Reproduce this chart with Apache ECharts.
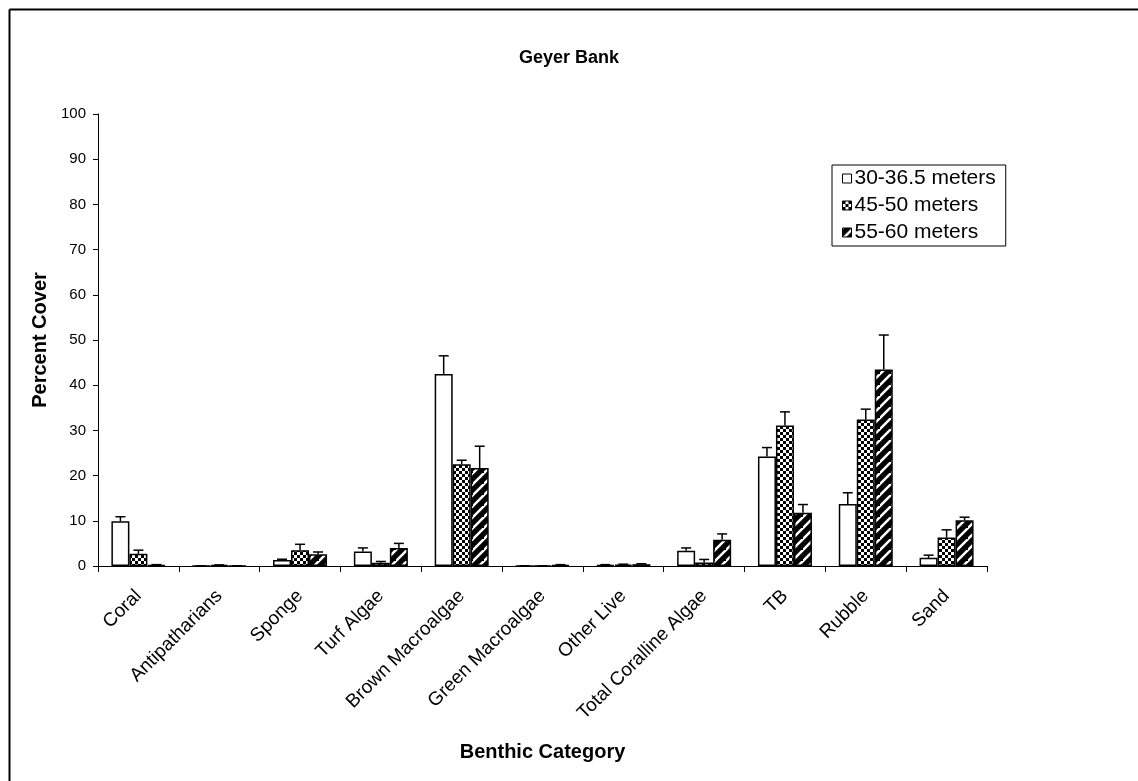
<!DOCTYPE html>
<html>
<head>
<meta charset="utf-8">
<title>Geyer Bank</title>
<script src="https://cdn.jsdelivr.net/npm/echarts@6/dist/echarts.min.js"></script>
<style>
  html, body { margin: 0; padding: 0; background: #fff; }
  #chart { width: 1138px; height: 781px; }
</style>
</head>
<body>
<div id="chart"></div>
<script>
  // benthic categories along the x axis
  var categories = ['Coral', 'Antipatharians', 'Sponge', 'Turf Algae', 'Brown Macroalgae',
    'Green Macroalgae', 'Other Live', 'Total Coralline Algae', 'TB', 'Rubble', 'Sand'];
  var seriesNames = ['30-36.5 meters', '45-50 meters', '55-60 meters'];

  // mean percent cover
  var shallow = [9.9, 0.05, 1.3, 3.2, 42.5, 0.05, 0.2, 3.4, 24.2, 13.7, 1.8];
  var mid = [2.7, 0.2, 3.5, 0.7, 22.5, 0.05, 0.3, 0.75, 31.1, 32.4, 6.3];
  var deep = [0.2, 0.05, 2.6, 4.0, 21.7, 0.2, 0.4, 5.8, 11.8, 43.5, 10.1];

  // standard errors (upper whisker only)
  var shallowSE = [1.0, 0, 0.2, 0.8, 4.0, 0, 0.1, 0.6, 2.0, 2.5, 0.6];
  var midSE = [0.8, 0.05, 1.3, 0.3, 0.9, 0, 0.1, 0.7, 3.0, 2.3, 1.7];
  var deepSE = [0.1, 0, 0.5, 1.0, 4.8, 0.1, 0.1, 1.3, 1.8, 7.6, 0.7];

  var yTicks = { min: 0, max: 100, interval: 10 };

  var FONT = '"Liberation Sans", Arial, sans-serif';
  var BAR_W = 18;

  // fill patterns like the old excel ones
  function checkerPattern() {
    var c = document.createElement('canvas');
    c.width = 6; c.height = 6;
    var ctx = c.getContext('2d');
    ctx.fillStyle = '#fff';
    ctx.fillRect(0, 0, 6, 6);
    ctx.fillStyle = '#000';
    ctx.fillRect(0, 0, 3, 3);
    ctx.fillRect(3, 3, 3, 3);
    return c;
  }
  function stripePattern() {
    var s = 11;
    var c = document.createElement('canvas');
    c.width = s; c.height = s;
    var ctx = c.getContext('2d');
    ctx.fillStyle = '#000';
    ctx.fillRect(0, 0, s, s);
    ctx.strokeStyle = '#fff';
    ctx.lineWidth = 2.5;
    ctx.beginPath();
    ctx.moveTo(-2, s + 2); ctx.lineTo(s + 2, -2);
    ctx.moveTo(-2 - s, s + 2); ctx.lineTo(2, -2);
    ctx.moveTo(s - 2, 2 * s + 2); ctx.lineTo(2 * s + 2, s - 2);
    ctx.stroke();
    return c;
  }

  var fills = [
    '#ffffff',
    { image: checkerPattern(), repeat: 'repeat' },
    { image: stripePattern(), repeat: 'repeat' }
  ];
  var means = [shallow, mid, deep];
  var errs = [shallowSE, midSE, deepSE];

  var series = [];
  for (var s = 0; s < 3; s++) {
    series.push({
      name: seriesNames[s],
      type: 'bar',
      barWidth: BAR_W,
      barGap: '0%',
      data: means[s],
      itemStyle: { color: fills[s], borderColor: '#000', borderWidth: 1.5 },
      emphasis: { disabled: true }
    });
  }

  // error bars: [categoryIndex, top, mean, seriesIndex]
  var errData = [];
  for (var s2 = 0; s2 < 3; s2++) {
    for (var i = 0; i < categories.length; i++) {
      errData.push([i, means[s2][i] + errs[s2][i], means[s2][i], s2]);
    }
  }
  series.push({
    type: 'custom',
    z: 5,
    silent: true,
    data: errData,
    renderItem: function (params, api) {
      var offset = (api.value(3) - 1) * BAR_W;
      var base = api.coord([api.value(0), api.value(2)]);
      var top = api.coord([api.value(0), api.value(1)]);
      var x = base[0] + offset;
      var style = { stroke: '#000', lineWidth: 1.5 };
      return {
        type: 'group',
        children: [
          { type: 'line', shape: { x1: x, y1: base[1], x2: x, y2: top[1] }, style: style },
          { type: 'line', shape: { x1: x - 5, y1: top[1], x2: x + 5, y2: top[1] }, style: style }
        ]
      };
    }
  });

  var chart = echarts.init(document.getElementById('chart'));
  chart.setOption({
    animation: false,
    backgroundColor: '#fff',
    textStyle: { fontFamily: FONT, color: '#000' },
    title: {
      text: 'Geyer Bank',
      left: 'center',
      top: 44,
      textStyle: { fontFamily: FONT, fontSize: 18, fontWeight: 'bold', color: '#000' }
    },
    graphic: [
      { type: 'line', shape: { x1: 9.5, y1: 9.5, x2: 1138, y2: 9.5 }, style: { stroke: '#000', lineWidth: 2 } },
      { type: 'line', shape: { x1: 9.5, y1: 9.5, x2: 9.5, y2: 781 }, style: { stroke: '#000', lineWidth: 2 } }
    ],
    legend: {
      orient: 'vertical',
      left: 832,
      top: 165,
      padding: [3, 10, 3, 10],
      itemGap: 6,
      itemWidth: 9,
      itemHeight: 9,
      itemStyle: { borderColor: '#000', borderWidth: 1 },
      icon: 'rect',
      borderColor: '#000',
      borderWidth: 1,
      backgroundColor: '#fff',
      textStyle: { fontFamily: FONT, fontSize: 21, color: '#000', padding: [0, 0, 0, -2] },
      data: seriesNames
    },
    grid: { left: 98, right: 151, top: 114, bottom: 215 },
    xAxis: {
      type: 'category',
      data: categories,
      name: 'Benthic Category',
      nameLocation: 'middle',
      nameGap: 176,
      nameTextStyle: { fontFamily: FONT, fontSize: 20, fontWeight: 'bold', color: '#000' },
      axisLine: { lineStyle: { color: '#000', width: 1 } },
      axisTick: { show: true, alignWithLabel: false, length: 6, lineStyle: { color: '#000' } },
      axisLabel: { rotate: 45, fontSize: 19, color: '#000', fontFamily: FONT, margin: 27, interval: 0 }
    },
    yAxis: {
      type: 'value',
      min: yTicks.min,
      max: yTicks.max,
      interval: yTicks.interval,
      name: 'Percent Cover',
      nameLocation: 'middle',
      nameGap: 47,
      nameTextStyle: { fontFamily: FONT, fontSize: 20, fontWeight: 'bold', color: '#000' },
      axisLine: { show: true, lineStyle: { color: '#000', width: 1 } },
      axisTick: { show: true, length: 5, lineStyle: { color: '#000' } },
      axisLabel: { fontSize: 15, color: '#000', fontFamily: FONT, margin: 12 },
      splitLine: { show: false }
    },
    series: series
  });
</script>
</body>
</html>
